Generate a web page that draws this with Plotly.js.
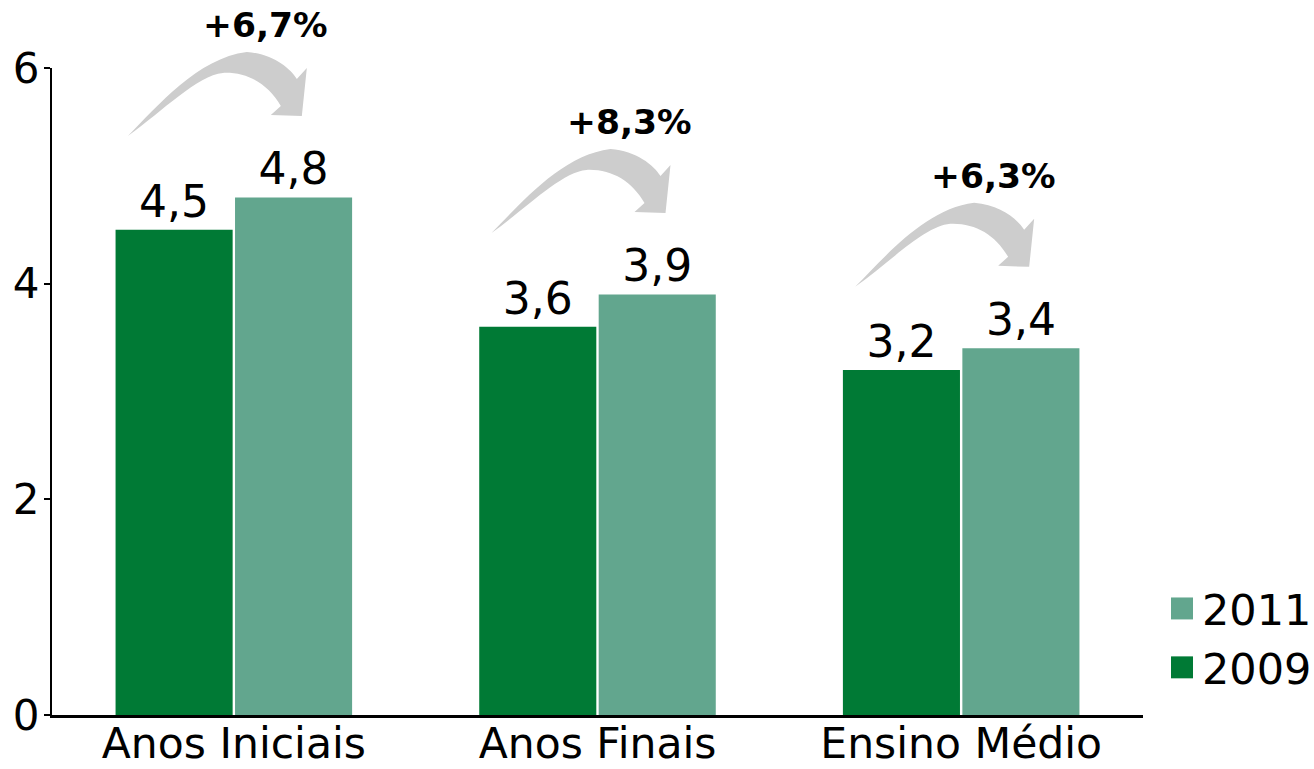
<!DOCTYPE html>
<html>
<head>
<meta charset="utf-8">
<script src="https://cdn.plot.ly/plotly-3.0.1.min.js"></script>
<style>html,body{margin:0;padding:0;background:#fff;}#chart{width:1314px;height:769px;}</style>
</head>
<body>
<div id="chart"></div>
<script>
const categories = ['Anos Iniciais', 'Anos Finais', 'Ensino Médio'];
const values2009 = [4.5, 3.6, 3.2];
const values2011 = [4.8, 3.9, 3.4];
const growthLabels = ['+6,7%', '+8,3%', '+6,3%'];
const yTicks = [0, 2, 4, 6];
const seriesNames = ['2009', '2011'];
const colors = ['#007a35', '#62a68e'];

const FONT = '"DejaVu Sans", Verdana, sans-serif';
const idx = categories.map((c, i) => i);
const X_RANGE = [-0.5, 2.5], Y_RANGE = [0, 6];
const PLOT_W = 1091, PLOT_H = 647;

const traces = [
  {type: 'bar', name: seriesNames[0], x: idx, y: values2009, marker: {color: colors[0]},
   texttemplate: '%{y:.1f}', textposition: 'outside', cliponaxis: false,
   textfont: {family: FONT, size: 44, color: '#000'}, hoverinfo: 'skip'},
  {type: 'bar', name: seriesNames[1], x: idx, y: values2011, marker: {color: colors[1]},
   texttemplate: '%{y:.1f}', textposition: 'outside', cliponaxis: false,
   textfont: {family: FONT, size: 44, color: '#000'}, hoverinfo: 'skip'}
];

// data -> paper helpers (so decorations above the y range are not clipped)
const xp = x => (x - X_RANGE[0]) / (X_RANGE[1] - X_RANGE[0]);
const yp = y => (y - Y_RANGE[0]) / (Y_RANGE[1] - Y_RANGE[0]);

// decorative curved arrows: anchored on the 2011 bar, offsets in pixels
function arrowPath(cx, ty) {
  const bx = xp(cx), by = yp(ty);
  const P = (dx, dy) => (bx + (dx + 4) / PLOT_W).toFixed(5) + ',' + (by - dy / PLOT_H).toFixed(5);
  return 'M' + P(-110, 20) +
    ' C' + P(-80, -10) + ' ' + P(-40, -58) + ' ' + P(9, -64) +
    ' C' + P(35, -62) + ' ' + P(52, -48) + ' ' + P(59, -37) +
    ' L' + P(69, -48) + ' L' + P(64, 0) + ' L' + P(33, -1) + ' L' + P(43, -10) +
    ' C' + P(30, -32) + ' ' + P(10, -44) + ' ' + P(-15, -43) +
    ' C' + P(-40, -41) + ' ' + P(-75, -5) + ' ' + P(-110, 20) + ' Z';
}
const shapes = idx.map(i => ({
  type: 'path', xref: 'paper', yref: 'paper', path: arrowPath(i, values2011[i] + 0.756),
  fillcolor: '#cdcdcd', line: {width: 0}, layer: 'above'
}));
const annotations = idx.map(i => ({
  x: xp(i) + 32 / PLOT_W, y: yp(values2011[i] + 1.6), xref: 'paper', yref: 'paper',
  text: '<b>' + growthLabels[i] + '</b>',
  showarrow: false, xanchor: 'center', yanchor: 'middle',
  font: {family: FONT, size: 34.5, color: '#000'}
}));

const layout = {
  width: 1314, height: 769,
  margin: {l: 52, r: 171, t: 68, b: 54},
  paper_bgcolor: '#fff', plot_bgcolor: '#fff',
  separators: ',.',
  barmode: 'group', bargap: 0.343, bargroupgap: 0.02,
  font: {family: FONT, color: '#000'},
  xaxis: {range: X_RANGE, tickvals: idx, ticktext: categories, showgrid: false, zeroline: false,
          showline: true, linecolor: '#000', linewidth: 3, ticks: '', ticklabelstandoff: -11,
          tickfont: {family: FONT, size: 42.5, color: '#000'}, fixedrange: true, automargin: false},
  yaxis: {range: Y_RANGE, tickvals: yTicks, ticktext: yTicks.map(String), showgrid: false, zeroline: false,
          showline: true, linecolor: '#000', linewidth: 2, ticks: 'outside', ticklen: 6, tickwidth: 2, tickcolor: '#000',
          ticklabelstandoff: -4,
          tickfont: {family: FONT, size: 42, color: '#000'}, fixedrange: true, automargin: false},
  showlegend: true,
  legend: {xref: 'container', yref: 'container', x: 1162 / 1314, y: 1 - 574 / 769, xanchor: 'left', yanchor: 'top',
           traceorder: 'reversed',
           font: {family: FONT, size: 43, color: '#000'}, bgcolor: 'rgba(0,0,0,0)'},
  shapes: shapes,
  annotations: annotations
};

Plotly.newPlot('chart', traces, layout, {staticPlot: true, displayModeBar: false}).then(() => {
  document.querySelectorAll('.legendpoints path').forEach(p => {
    const t = p.getAttribute('transform') || '';
    p.setAttribute('transform', t + ' scale(1.83)');
  });
});
</script>
</body>
</html>
